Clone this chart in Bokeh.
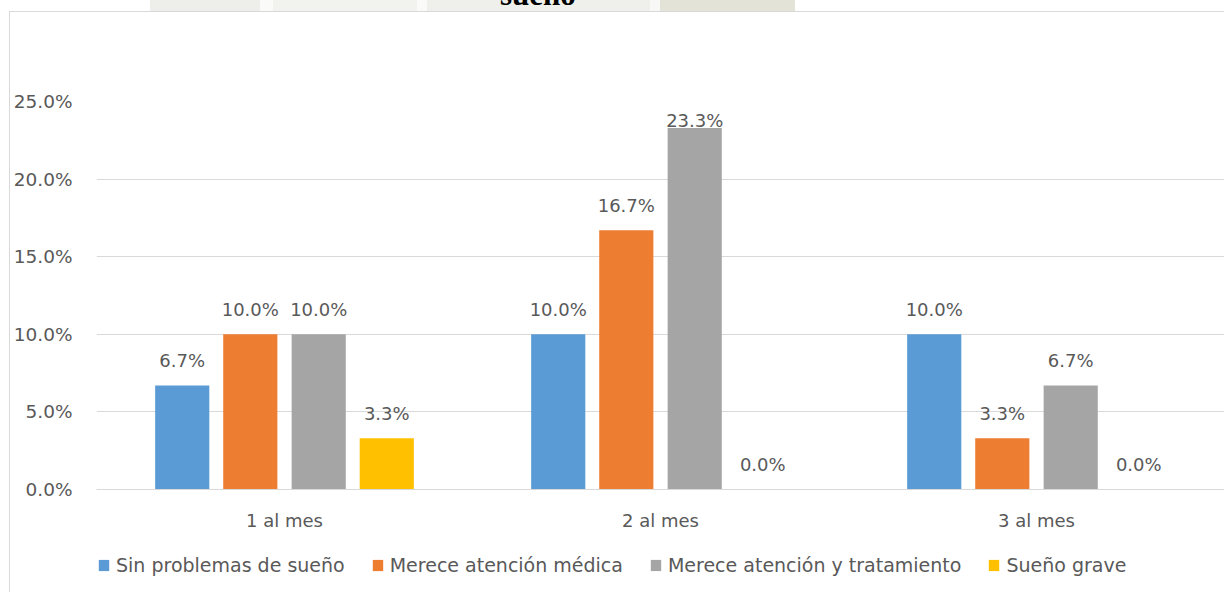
from bokeh.plotting import figure
from bokeh.models import (ColumnDataSource, FactorRange, Range1d, LabelSet, Legend,
                          LegendItem, FixedTicker, Div, Spacer)
from bokeh.layouts import column, row
from bokeh.transform import dodge
from bokeh.core.properties import value
from bokeh.embed import file_html
from bokeh.resources import INLINE

# ---- data ----
categories = ["1 al mes", "2 al mes", "3 al mes"]
series_names = ["Sin problemas de sueño", "Merece atención médica",
                "Merece atención y tratamiento", "Sueño grave"]
sin_problemas = [6.7, 10.0, 10.0]
atencion_medica = [10.0, 16.7, 3.3]
atencion_tratamiento = [10.0, 23.3, 6.7]
sueno_grave = [3.3, 0.0, 0.0]
y_ticks = [0, 5, 10, 15, 20, 25]
title_text = "sueño"

series_values = [sin_problemas, atencion_medica, atencion_tratamiento, sueno_grave]
colors = ["#5B9BD5", "#ED7D31", "#A5A5A5", "#FFC000"]
offsets = [-0.272, -0.091, 0.091, 0.272]
bar_width = 0.144
FONT = "DejaVu Sans"
TXT = "#595959"
FS = "18px"
LFS = "19px"
BORDER = "#D9D9D9"

# ---- main chart ----
p = figure(width=1214, height=528, x_range=FactorRange(*categories),
           y_range=Range1d(0, 25), output_backend="svg", toolbar_location=None,
           min_border_left=86, min_border_right=0, min_border_top=89,
           min_border_bottom=51,
           background_fill_color="white", border_fill_color="white")
p.outline_line_color = None

for name, vals, col, off in zip(series_names, series_values, colors, offsets):
    src = ColumnDataSource(dict(
        cat=categories, val=vals,
        lab=[f"{v:.1f}%" for v in vals],
        yo=[25 if v < 22 else 7 for v in vals]))
    p.vbar(x=dodge("cat", off, range=p.x_range), top="val", width=bar_width,
           source=src, fill_color=col, line_color=None)
    ls = LabelSet(x=dodge("cat", off, range=p.x_range), y="val", text="lab",
                  source=src, y_offset="yo", text_align="center",
                  text_baseline="middle", text_font=value(FONT),
                  text_font_size=FS, text_color=TXT)
    p.add_layout(ls)

p.yaxis.ticker = FixedTicker(ticks=y_ticks)
p.yaxis.major_label_overrides = {t: f"{t:.1f}%" for t in y_ticks}
p.yaxis.axis_line_color = None
p.yaxis.major_tick_line_color = None
p.yaxis.minor_tick_line_color = None
p.yaxis.major_tick_out = 0
p.yaxis.major_label_standoff = 24
p.xaxis.axis_line_color = BORDER
p.xaxis.major_tick_line_color = None
p.xaxis.minor_tick_line_color = None
p.xaxis.major_tick_out = 0
p.xaxis.major_label_standoff = 20
for ax in (p.xaxis, p.yaxis):
    ax.major_label_text_font = FONT
    ax.major_label_text_font_size = FS
    ax.major_label_text_color = TXT
p.yaxis.major_label_text_font_size = "18.5px"
p.xgrid.grid_line_color = None
p.ygrid.grid_line_color = BORDER
p.ygrid.ticker = FixedTicker(ticks=y_ticks)

# ---- legend strip ----
lf = figure(width=1214, height=52, x_range=Range1d(0, 1), y_range=Range1d(0, 1),
            output_backend="svg", toolbar_location=None,
            x_axis_location=None, y_axis_location=None,
            min_border=0, min_border_left=0, min_border_right=0,
            min_border_top=0, min_border_bottom=0,
            background_fill_color="white", border_fill_color="white")
lf.outline_line_color = None
lf.grid.visible = False
items = []
for name, col in zip(series_names, colors):
    # legend proxy: a zero-height bar placed outside the visible range
    lr = lf.vbar(x=[5], top=[0], width=0.01, fill_color=col, line_color=None)
    items.append(LegendItem(label=name, renderers=[lr]))
legend = Legend(items=items, orientation="horizontal", location=(1, 16),
                glyph_width=13, glyph_height=14, label_standoff=6, spacing=26,
                padding=0, margin=0, border_line_color=None,
                background_fill_alpha=0, label_text_font=FONT,
                label_text_font_size=LFS, label_text_color=TXT)
lf.add_layout(legend)

# ---- title strip (title cut off at the top, faint watermark behind) ----
wm = ("linear-gradient(to right, #ffffff 0px, #ffffff 150px, #eeeeea 150px, "
      "#eeeeea 260px, #fafaf8 260px, #fafaf8 273px, #f2f2ee 273px, #f2f2ee 417px, "
      "#fafaf8 417px, #fafaf8 427px, #efefeb 427px, #efefeb 650px, "
      "#f8f8f6 650px, #f8f8f6 660px, #e3e3d8 660px, #e3e3d8 795px, "
      "#ffffff 795px, #ffffff 1224px)")
title_div = Div(
    text=('<span style="position:absolute; left:500px; top:-21px; '
          'font-family:\'Liberation Serif\'; font-weight:bold; font-size:31px; '
          'line-height:31px; color:black; white-space:nowrap">' + title_text + '</span>'),
    width=1224, height=11, margin=0,
    styles={"overflow": "hidden", "position": "relative", "background": wm})

boxed = column(p, lf, spacing=0, margin=0,
               styles={"border-top": "1px solid " + BORDER,
                       "border-left": "1px solid " + BORDER})
layout = column(title_div,
                row(Spacer(width=9, height=581, margin=0), boxed, spacing=0, margin=0),
                spacing=0, margin=0)

open("out.html", "w").write(file_html(layout, INLINE))
